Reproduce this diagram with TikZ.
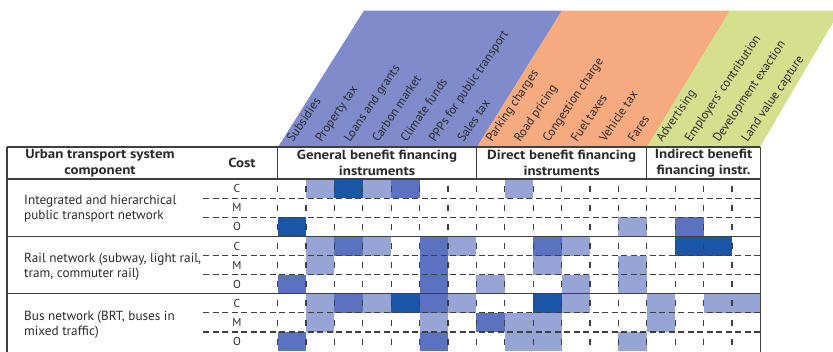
\documentclass[tikz,border=0pt]{standalone}
\usepackage{fontspec}
\setmainfont{PT Sans}
\newfontfamily\hdrfont{PT Sans}[FakeStretch=1.13]
\definecolor{cdark}{HTML}{1A55A8}
\definecolor{cmed}{HTML}{5A72BF}
\definecolor{clight}{HTML}{97A4D6}
\definecolor{pblue}{HTML}{7F8BCA}
\definecolor{porange}{HTML}{F5AA80}
\definecolor{pgreen}{HTML}{D4E08E}
\definecolor{txt}{HTML}{2B2B2B}
\definecolor{lin}{HTML}{3F3F3F}
\begin{document}
\begin{tikzpicture}[x=1pt,y=-1pt,
  hdr/.style={font=\hdrfont\fontsize{13.2}{15.8}\selectfont\bfseries, text=txt, align=center, inner sep=0},
  lbl/.style={font=\fontsize{13.2}{14.6}\selectfont, text=txt, align=left, anchor=west, inner sep=0},
  rot/.style={font=\fontsize{12.4}{13}\selectfont, text=txt, rotate=56, anchor=base west, inner sep=0},
  cml/.style={font=\fontsize{11.5}{12}\selectfont, text=txt, inner sep=0},
  solidln/.style={draw=lin, line width=1.3pt},
  dashln/.style={draw=lin, line width=1.1pt, dash pattern=on 6pt off 3.5pt},
  dashv/.style={draw=lin, line width=1.1pt, dash pattern=on 6pt off 13.13pt, dash phase=12.5pt},
]
\useasboundingbox (0,0) rectangle (833,351);
\clip (0,0) rectangle (833,351);
\fill[white] (0,0) rectangle (833,351);
% slanted header bands
\fill[pblue] (278,147) -- (364,10.5) -- (562,10.5) -- (477,147) -- cycle;
\fill[porange] (477,147) -- (562,10.5) -- (730,10.5) -- (647,147) -- cycle;
\fill[pgreen] (647,147) -- (730,10.5) -- (840,10.5) -- (760,147) -- cycle;
% slanted labels
\foreach \t [count=\i from 0] in {Subsidies, Property tax, Loans and grants, Carbon market, Climate funds, PPPs for public transport, Sales tax, Parking charges, Road pricing, Congestion charge, Fuel taxes, Vehicle tax, Fares, Advertising, Employers’ contribution, Development exaction, Land value capture}
  \node[rot] (l\i) at ({277.6+28.4*\i+15.5},143) {\t};
% cells
\foreach \c/\r in {2/0,0/2,14/3,15/3,4/6,9/6}
  \fill[cdark] ({277.6+28.4*\c},{179+19.13*\r}) rectangle ++(28.4,19.13);
\foreach \c/\r in {4/0,2/3,5/3,5/4,0/5,5/5,2/6,5/6,0/8,5/8,14/2,9/3,7/7}
  \fill[cmed] ({277.6+28.4*\c},{179+19.13*\r}) rectangle ++(28.4,19.13);
\foreach \c/\r in {1/0,3/0,1/3,3/3,6/3,1/4,1/6,3/6,6/6,1/7,5/7,8/0,12/2,10/3,9/4,12/4,7/5,10/5,12/5,10/6,13/6,15/6,16/6,8/7,9/7,13/7,8/8,9/8,12/8}
  \fill[clight] ({277.6+28.4*\c},{179+19.13*\r}) rectangle ++(28.4,19.13);
% dashed grid
\foreach \i in {0,...,16}
  \draw[dashv] ({277.6+28.4*\i},179) -- ({277.6+28.4*\i},352);
\foreach \r in {1,2,4,5,7,8}
  \draw[dashln] (203,{179+19.13*\r}) -- (760.4,{179+19.13*\r});
% solid lines
\draw[solidln] (7,147) -- (760.4,147);
\foreach \y in {179,236.4,293.8}
  \draw[solidln] (7,\y) -- (760.4,\y);
\draw[solidln] (7,147) -- (7,352);
\draw[solidln] (760.4,147) -- (760.4,352);
\foreach \x in {277.6,476.4,646.8}
  \draw[solidln] (\x,147) -- (\x,179);
% header texts
\node[hdr] (hc) at (100,163) {Urban transport system\\component};
\node[hdr] (hk) at (242,163) {Cost};
\node[hdr] (g1) at (377,163) {General benefit financing\\instruments};
\node[hdr] (g2) at (561.6,163) {Direct benefit financing\\instruments};
\node[hdr] (g3) at (703.6,163) {Indirect benefit\\financing instr.};
% row labels
\node[lbl] (r1) at (24,208.8) {Integrated and hierarchical\\public transport network};
\node[lbl] (r2) at (24,266.8) {Rail network (subway, light rail,\\tram, commuter rail)};
\node[lbl] (r3) at (24,324.7) {Bus network (BRT, buses in\\mixed traffic)};
% C M O
\foreach \k in {0,1,2}{
  \node[cml] (c\k) at (237,{179+57.4*\k+9.6}) {C};
  \node[cml] (m\k) at (237,{179+57.4*\k+28.7}) {M};
  \node[cml] (o\k) at (237,{179+57.4*\k+47.8}) {O};
}
\end{tikzpicture}
\end{document}
